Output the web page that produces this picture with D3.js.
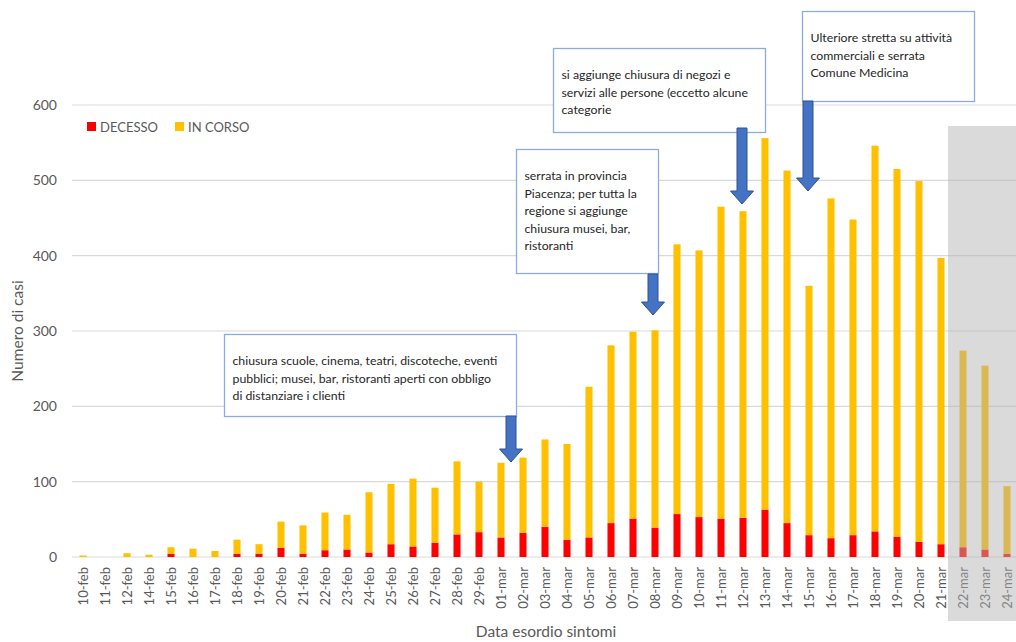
<!DOCTYPE html>
<html>
<head>
<meta charset="utf-8">
<script src="https://cdn.jsdelivr.net/npm/d3@7"></script>
<style>
  html, body { margin: 0; padding: 0; background: #fff; }
  svg { display: block; font-family: Lato, "Open Sans", sans-serif; }
</style>
</head>
<body>
<svg id="chart" width="1016" height="642"></svg>
<script>
// Date of symptom onset (no cases recorded on 13-feb)
const dates = ["10-feb","11-feb","12-feb","14-feb","15-feb","16-feb","17-feb","18-feb","19-feb","20-feb",
  "21-feb","22-feb","23-feb","24-feb","25-feb","26-feb","27-feb","28-feb","29-feb",
  "01-mar","02-mar","03-mar","04-mar","05-mar","06-mar","07-mar","08-mar","09-mar","10-mar",
  "11-mar","12-mar","13-mar","14-mar","15-mar","16-mar","17-mar","18-mar","19-mar","20-mar",
  "21-mar","22-mar","23-mar","24-mar"];

// Deaths
const decesso = [0,0,0,0,4,0,0,4,4,12,
  4,9,10,6,17,14,19,30,33,
  26,32,40,23,26,45,51,39,57,53,
  51,52,63,45,29,25,29,34,27,20,
  17,13,10,4];

// Ongoing cases
const inCorso = [2,0,5,3,9,11,8,19,13,35,
  38,50,46,80,80,90,73,97,67,
  99,100,116,127,200,236,248,262,358,354,
  414,407,493,468,331,451,419,512,488,479,
  380,261,244,90];

const yTicks = [0,100,200,300,400,500,600];
const seriesKeys = ["DECESSO","IN CORSO"];
const seriesColors = ["#FF0000","#FFC000"];
// Last days: data still incomplete
const incompleteFrom = "22-mar";

const notes = [
  { lines: ["chiusura scuole, cinema, teatri, discoteche, eventi",
            "pubblici; musei, bar, ristoranti aperti con obbligo",
            "di distanziare i clienti"],
    box: [224, 334, 292, 82], arrow: [511, 416, 462] },
  { lines: ["serrata in provincia", "Piacenza; per tutta la", "regione si aggiunge",
            "chiusura musei, bar,", "ristoranti"],
    box: [516, 149, 142, 124], arrow: [653, 274, 315] },
  { lines: ["si aggiunge chiusura di negozi e",
            "servizi alle persone (eccetto alcune",
            "categorie"],
    box: [553, 48, 212, 84], arrow: [742, 128, 204] },
  { lines: ["Ulteriore stretta su attività", "commerciali e serrata", "Comune Medicina"],
    box: [802, 11, 172, 90], arrow: [808, 101, 191] }
];

const svg = d3.select("#chart");
const W = 1016, H = 642;
const margin = { left: 72, right: -2, top: 105, bottom: 85 };

const x = d3.scaleBand().domain(dates).range([margin.left, W - margin.right]).paddingInner(0.68).paddingOuter(0.34);
const y = d3.scaleLinear().domain([0, 600]).range([H - margin.bottom, margin.top]);

const rows = dates.map((d, i) => ({ date: d, "DECESSO": decesso[i], "IN CORSO": inCorso[i] }));
const stacked = d3.stack().keys(seriesKeys)(rows);
const color = d3.scaleOrdinal().domain(seriesKeys).range(seriesColors);

// Gridlines
svg.append("g")
  .selectAll("line").data(yTicks).join("line")
  .attr("x1", margin.left).attr("x2", W)
  .attr("y1", d => y(d)).attr("y2", d => y(d))
  .attr("stroke", "#d9d9d9").attr("stroke-width", 1.2);

// Y axis labels
const yAxis = d3.axisLeft(y).tickValues(yTicks).tickSize(0).tickPadding(15);
const gy = svg.append("g").attr("transform", `translate(${margin.left},0)`).call(yAxis);
gy.select(".domain").remove();
gy.selectAll("text").attr("fill", "#595959").attr("font-size", 14).attr("font-family", "Lato, sans-serif");

// Stacked bars
svg.append("g")
  .selectAll("g").data(stacked).join("g")
  .attr("fill", d => color(d.key))
  .selectAll("rect").data(d => d).join("rect")
  .attr("x", d => x(d.data.date))
  .attr("width", x.bandwidth())
  .attr("y", d => y(d[1]))
  .attr("height", d => y(d[0]) - y(d[1]));

// X axis labels (rotated)
const xAxis = d3.axisBottom(x).tickSize(0).tickPadding(0);
const gx = svg.append("g").attr("transform", `translate(0,${y(0)})`).call(xAxis);
gx.select(".domain").remove();
gx.selectAll("text")
  .attr("fill", "#595959").attr("font-size", 13).attr("font-family", "Lato, sans-serif")
  .attr("transform", "rotate(-90)")
  .attr("text-anchor", "end")
  .attr("x", -10).attr("y", 0).attr("dy", "0.35em");

// Axis titles
svg.append("text")
  .attr("x", 546).attr("y", 637)
  .attr("text-anchor", "middle")
  .attr("fill", "#595959").attr("font-size", 15.5)
  .text("Data esordio sintomi");

svg.append("text")
  .attr("transform", "translate(23,331) rotate(-90)")
  .attr("text-anchor", "middle")
  .attr("fill", "#595959").attr("font-size", 15.5)
  .text("Numero di casi");

// Legend
const legend = svg.append("g").attr("transform", "translate(87,122)");
const legendOffsets = [0, 88];
seriesKeys.forEach((k, i) => {
  const g = legend.append("g").attr("transform", `translate(${legendOffsets[i]},0)`);
  g.append("rect").attr("width", 9).attr("height", 9).attr("fill", color(k));
  g.append("text").attr("x", 13).attr("y", 9.5)
    .attr("fill", "#595959").attr("font-size", 13).text(k);
});

// Shaded area for incomplete days
const shadeX = x(incompleteFrom) - x.step() * x.paddingInner() / 2 - 4;
svg.append("rect")
  .attr("x", shadeX).attr("y", 126)
  .attr("width", W - shadeX).attr("height", 621 - 126)
  .attr("fill", "rgb(177,177,177)").attr("fill-opacity", 0.48);

// Annotation boxes with arrows
const notesG = svg.append("g");
notes.forEach(n => {
  const [bx, by, bw, bh] = n.box;
  notesG.append("rect")
    .attr("x", bx + 0.5).attr("y", by + 0.5).attr("width", bw).attr("height", bh)
    .attr("fill", "#fff").attr("stroke", "#8faadc").attr("stroke-width", 1.3);
  const t = notesG.append("text")
    .attr("fill", "#262626").attr("font-size", 12.3);
  n.lines.forEach((line, i) => {
    t.append("tspan").attr("x", bx + 8.5).attr("y", by + 31 + i * 17.6).text(line);
  });
});
notes.forEach(n => {
  const [ax, top, tip] = n.arrow;
  const sw = 5, hw = 11.5, hl = 13;
  const p = d3.path();
  p.moveTo(ax - sw, top);
  p.lineTo(ax + sw, top);
  p.lineTo(ax + sw, tip - hl);
  p.lineTo(ax + hw, tip - hl);
  p.lineTo(ax, tip);
  p.lineTo(ax - hw, tip - hl);
  p.lineTo(ax - sw, tip - hl);
  p.closePath();
  notesG.append("path").attr("d", p.toString())
    .attr("fill", "#4472C4").attr("stroke", "#2F528F").attr("stroke-width", 1);
});
</script>
</body>
</html>
